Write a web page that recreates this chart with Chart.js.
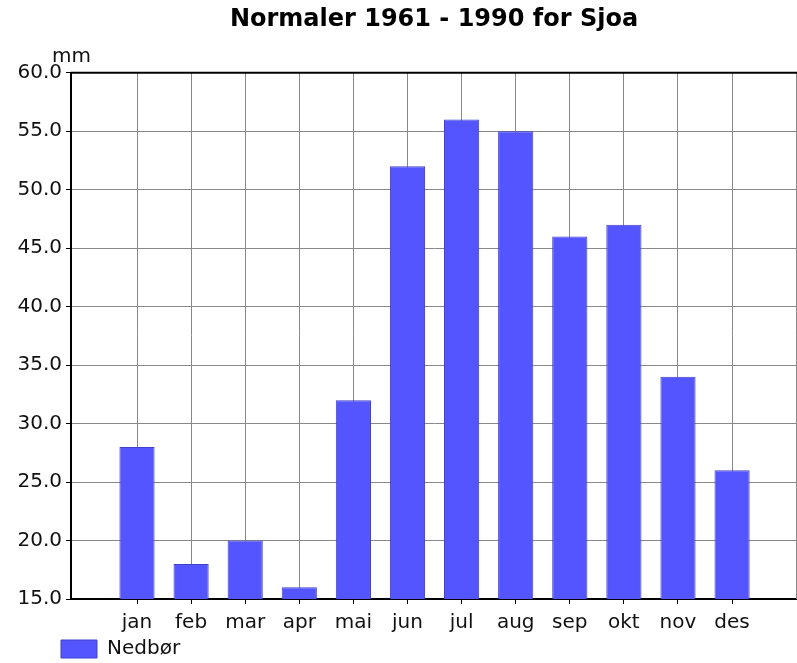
<!DOCTYPE html>
<html>
<head>
<meta charset="utf-8">
<script src="https://cdn.jsdelivr.net/npm/chart.js@4"></script>
<style>
  html, body { margin: 0; padding: 0; background: #fff; }
</style>
</head>
<body>
<canvas id="chart" width="797" height="663"></canvas>
<script>
const months = ["jan", "feb", "mar", "apr", "mai", "jun", "jul", "aug", "sep", "okt", "nov", "des"];
const nedbor = [28, 18, 20, 16, 32, 52, 56, 55, 46, 47, 34, 26];
const yMin = 15;
const yMax = 60;
const yStep = 5;

const FONT = "'DejaVu Sans', sans-serif";

// frame lines, unit label, and legend pulled left of the plot like the original
const framePlugin = {
  id: "frame",
  afterLayout(chart) {
    chart.legend.left = chart.chartArea.left - 20;
    chart.legend.top = chart.chartArea.bottom + 30;
  },
  afterDraw(chart) {
    const { ctx, chartArea } = chart;
    ctx.save();
    ctx.strokeStyle = "#888";
    ctx.lineWidth = 1;
    ctx.beginPath();
    ctx.moveTo(chartArea.right - 0.5, chartArea.top);
    ctx.lineTo(chartArea.right - 0.5, chartArea.bottom);
    ctx.stroke();
    ctx.strokeStyle = "#000";
    ctx.lineWidth = 2;
    ctx.beginPath();
    ctx.moveTo(chartArea.left, chartArea.top);
    ctx.lineTo(chartArea.right, chartArea.top);
    ctx.stroke();
    ctx.fillStyle = "#111";
    ctx.font = "20px " + FONT;
    ctx.textAlign = "left";
    ctx.textBaseline = "alphabetic";
    ctx.fillText("mm", chartArea.left - 19, chartArea.top - 11);
    ctx.restore();
  }
};

const ctx = document.getElementById("chart").getContext("2d");
const chart = new Chart(ctx, {
  type: "bar",
  data: {
    datasets: [
      {
        label: "Nedbør",
        data: nedbor.map((v, i) => ({ x: i, y: v })),
        backgroundColor: "#5555ff",
        borderColor: "#4040c8",
        borderWidth: 1,
        categoryPercentage: 1,
        barPercentage: 0.65,
      },
    ],
  },
  options: {
    responsive: false,
    animation: false,
    layout: { padding: 0 },
    plugins: {
      title: {
        display: true,
        text: "Normaler 1961 - 1990 for Sjoa",
        fullSize: false,
        color: "#000",
        font: { family: FONT, size: 24, weight: "bold" },
        padding: { top: 5, bottom: 39 },
      },
      legend: {
        position: "bottom",
        align: "start",
        maxHeight: 28,
        labels: {
          color: "#111",
          font: { family: FONT, size: 20 },
          boxWidth: 36,
          boxHeight: 18,
          padding: 10,
        },
      },
      tooltip: { enabled: false },
    },
    scales: {
      x: {
        type: "linear",
        offset: false,
        min: -1.22,
        max: 12.2,
        afterBuildTicks: (scale) => {
          scale.ticks = months.map((m, i) => ({ value: i }));
        },
        afterFit: (scale) => { scale.height = 36; },
        ticks: {
          color: "#111",
          font: { family: FONT, size: 20 },
          padding: 7,
          maxRotation: 0,
          autoSkip: false,
          callback: (v) => months[v],
        },
        grid: { offset: false, color: "#888", tickColor: "#000", tickLength: 5 },
        border: { color: "#000", width: 2 },
      },
      y: {
        min: yMin,
        max: yMax,
        afterFit: (scale) => { scale.width = 71; },
        ticks: {
          stepSize: yStep,
          color: "#111",
          font: { family: FONT, size: 20 },
          padding: 4,
          callback: (v) => v.toFixed(1),
        },
        grid: { color: "#888", tickColor: "#000", tickLength: 5 },
        border: { color: "#000", width: 2 },
      },
    },
  },
  plugins: [framePlugin],
});
</script>
</body>
</html>
